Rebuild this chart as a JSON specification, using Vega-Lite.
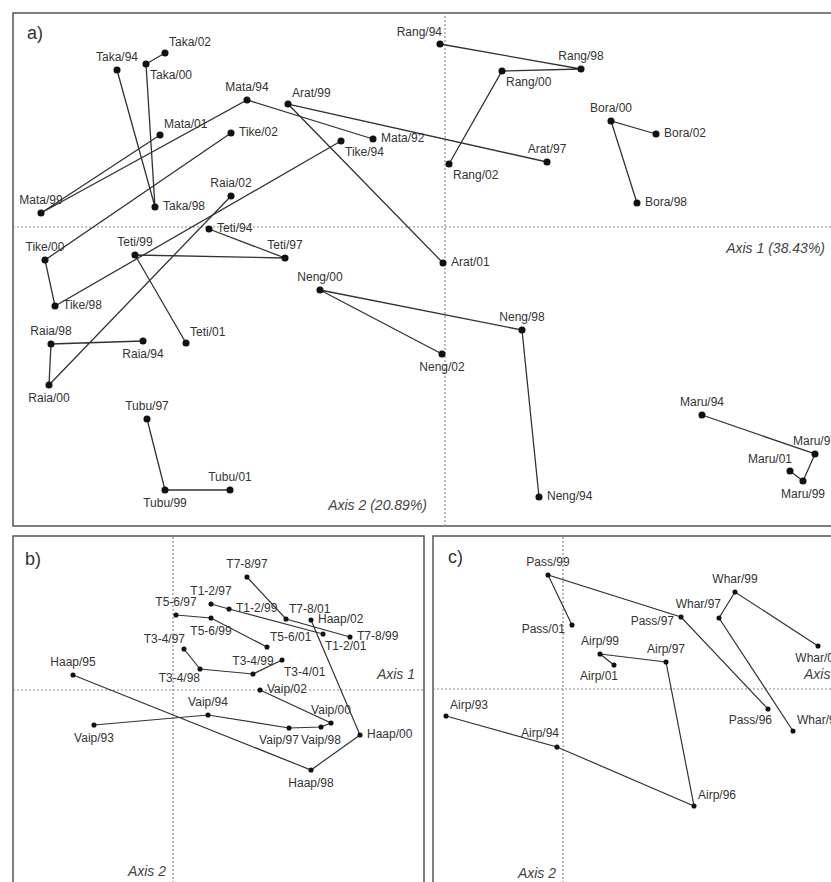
{
"$schema": "https://vega.github.io/schema/vega-lite/v6.json",
"padding": {"left": 11, "top": 11, "right": 0, "bottom": 0},
"background": "white",
"spacing": 10,
"bounds": "flush",
"config": {"view": {"stroke": "#555", "strokeWidth": 1.5}, "text": {"font": "Liberation Sans", "fontSize": 12, "color": "#333"}},
"datasets": {
"panelA": [
{"site":"Taka","label":"Taka/94","x":-3.28,"y":1.57,"seq":1,"pos":"above"},
{"site":"Taka","label":"Taka/98","x":-2.90,"y":0.20,"seq":2,"pos":"right"},
{"site":"Taka","label":"Taka/00","x":-2.99,"y":1.63,"seq":3,"pos":"lr"},
{"site":"Taka","label":"Taka/02","x":-2.80,"y":1.74,"seq":4,"pos":"ur"},
{"site":"Mata","label":"Mata/92","x":-0.72,"y":0.88,"seq":1,"pos":"right"},
{"site":"Mata","label":"Mata/94","x":-1.98,"y":1.27,"seq":2,"pos":"above"},
{"site":"Mata","label":"Mata/99","x":-4.04,"y":0.14,"seq":3,"pos":"above"},
{"site":"Mata","label":"Mata/01","x":-2.85,"y":0.92,"seq":4,"pos":"ur"},
{"site":"Arat","label":"Arat/97","x":1.02,"y":0.65,"seq":1,"pos":"above"},
{"site":"Arat","label":"Arat/99","x":-1.57,"y":1.23,"seq":2,"pos":"ur"},
{"site":"Arat","label":"Arat/01","x":-0.02,"y":-0.36,"seq":3,"pos":"right"},
{"site":"Tike","label":"Tike/94","x":-1.04,"y":0.86,"seq":1,"pos":"lr"},
{"site":"Tike","label":"Tike/98","x":-3.90,"y":-0.79,"seq":2,"pos":"right"},
{"site":"Tike","label":"Tike/00","x":-4.00,"y":-0.33,"seq":3,"pos":"above"},
{"site":"Tike","label":"Tike/02","x":-2.14,"y":0.94,"seq":4,"pos":"right"},
{"site":"Raia","label":"Raia/94","x":-3.02,"y":-1.14,"seq":1,"pos":"below"},
{"site":"Raia","label":"Raia/98","x":-3.94,"y":-1.17,"seq":2,"pos":"above"},
{"site":"Raia","label":"Raia/00","x":-3.96,"y":-1.58,"seq":3,"pos":"below"},
{"site":"Raia","label":"Raia/02","x":-2.14,"y":0.31,"seq":4,"pos":"above"},
{"site":"Teti","label":"Teti/94","x":-2.36,"y":-0.02,"seq":1,"pos":"right"},
{"site":"Teti","label":"Teti/97","x":-1.60,"y":-0.31,"seq":2,"pos":"above"},
{"site":"Teti","label":"Teti/99","x":-3.10,"y":-0.28,"seq":3,"pos":"above"},
{"site":"Teti","label":"Teti/01","x":-2.59,"y":-1.16,"seq":4,"pos":"ur"},
{"site":"Rang","label":"Rang/94","x":-0.05,"y":1.83,"seq":1,"pos":"ul"},
{"site":"Rang","label":"Rang/98","x":1.36,"y":1.58,"seq":2,"pos":"above"},
{"site":"Rang","label":"Rang/00","x":0.57,"y":1.56,"seq":3,"pos":"lr"},
{"site":"Rang","label":"Rang/02","x":0.04,"y":0.63,"seq":4,"pos":"lr"},
{"site":"Bora","label":"Bora/98","x":1.92,"y":0.24,"seq":1,"pos":"right"},
{"site":"Bora","label":"Bora/00","x":1.66,"y":1.06,"seq":2,"pos":"above"},
{"site":"Bora","label":"Bora/02","x":2.11,"y":0.93,"seq":3,"pos":"right"},
{"site":"Neng","label":"Neng/94","x":0.94,"y":-2.70,"seq":1,"pos":"right"},
{"site":"Neng","label":"Neng/98","x":0.77,"y":-1.03,"seq":2,"pos":"above"},
{"site":"Neng","label":"Neng/00","x":-1.25,"y":-0.63,"seq":3,"pos":"above"},
{"site":"Neng","label":"Neng/02","x":-0.03,"y":-1.27,"seq":4,"pos":"below"},
{"site":"Maru","label":"Maru/94","x":2.57,"y":-1.88,"seq":1,"pos":"above"},
{"site":"Maru","label":"Maru/97","x":3.70,"y":-2.27,"seq":2,"pos":"above"},
{"site":"Maru","label":"Maru/99","x":3.58,"y":-2.54,"seq":3,"pos":"below"},
{"site":"Maru","label":"Maru/01","x":3.45,"y":-2.44,"seq":4,"pos":"ul"},
{"site":"Tubu","label":"Tubu/97","x":-2.98,"y":-1.92,"seq":1,"pos":"above"},
{"site":"Tubu","label":"Tubu/99","x":-2.80,"y":-2.63,"seq":2,"pos":"below"},
{"site":"Tubu","label":"Tubu/01","x":-2.15,"y":-2.63,"seq":3,"pos":"above"}
],
"panelB": [
{"site":"T7-8","label":"T7-8/97","x":0.74,"y":1.13,"seq":1,"pos":"above"},
{"site":"T7-8","label":"T7-8/01","x":1.13,"y":0.71,"seq":2,"pos":"ur"},
{"site":"T7-8","label":"T7-8/99","x":1.77,"y":0.53,"seq":3,"pos":"right"},
{"site":"T1-2","label":"T1-2/97","x":0.38,"y":0.86,"seq":1,"pos":"above"},
{"site":"T1-2","label":"T1-2/99","x":0.56,"y":0.81,"seq":2,"pos":"right"},
{"site":"T1-2","label":"T1-2/01","x":1.50,"y":0.56,"seq":3,"pos":"lr"},
{"site":"T5-6","label":"T5-6/97","x":0.03,"y":0.75,"seq":1,"pos":"above"},
{"site":"T5-6","label":"T5-6/99","x":0.38,"y":0.72,"seq":2,"pos":"below"},
{"site":"T5-6","label":"T5-6/01","x":0.94,"y":0.43,"seq":3,"pos":"ur"},
{"site":"T3-4","label":"T3-4/97","x":0.11,"y":0.41,"seq":1,"pos":"ul"},
{"site":"T3-4","label":"T3-4/98","x":0.27,"y":0.21,"seq":2,"pos":"ll"},
{"site":"T3-4","label":"T3-4/99","x":0.80,"y":0.16,"seq":3,"pos":"above"},
{"site":"T3-4","label":"T3-4/01","x":1.09,"y":0.30,"seq":4,"pos":"lr"},
{"site":"Haap","label":"Haap/95","x":-1.00,"y":0.15,"seq":1,"pos":"above"},
{"site":"Haap","label":"Haap/98","x":1.38,"y":-0.80,"seq":2,"pos":"below"},
{"site":"Haap","label":"Haap/00","x":1.87,"y":-0.45,"seq":3,"pos":"right"},
{"site":"Haap","label":"Haap/02","x":1.38,"y":0.70,"seq":4,"pos":"right"},
{"site":"Vaip","label":"Vaip/93","x":-0.79,"y":-0.35,"seq":1,"pos":"below"},
{"site":"Vaip","label":"Vaip/94","x":0.35,"y":-0.25,"seq":2,"pos":"above"},
{"site":"Vaip","label":"Vaip/97","x":1.16,"y":-0.38,"seq":3,"pos":"bl"},
{"site":"Vaip","label":"Vaip/98","x":1.48,"y":-0.37,"seq":4,"pos":"below"},
{"site":"Vaip","label":"Vaip/00","x":1.58,"y":-0.33,"seq":5,"pos":"above"},
{"site":"Vaip","label":"Vaip/02","x":0.87,"y":0.00,"seq":6,"pos":"right"}
],
"panelC": [
{"site":"Pass","label":"Pass/96","x":2.05,"y":-0.20,"seq":1,"pos":"ll"},
{"site":"Pass","label":"Pass/97","x":1.18,"y":0.72,"seq":2,"pos":"left"},
{"site":"Pass","label":"Pass/99","x":-0.15,"y":1.14,"seq":3,"pos":"above"},
{"site":"Pass","label":"Pass/01","x":0.09,"y":0.64,"seq":4,"pos":"left"},
{"site":"Whar","label":"Whar/96","x":2.30,"y":-0.42,"seq":1,"pos":"ur"},
{"site":"Whar","label":"Whar/97","x":1.56,"y":0.71,"seq":2,"pos":"ul"},
{"site":"Whar","label":"Whar/99","x":1.72,"y":0.97,"seq":3,"pos":"above"},
{"site":"Whar","label":"Whar/01","x":2.55,"y":0.43,"seq":4,"pos":"below"},
{"site":"Airp","label":"Airp/93","x":-1.17,"y":-0.27,"seq":1,"pos":"ur"},
{"site":"Airp","label":"Airp/94","x":-0.06,"y":-0.58,"seq":2,"pos":"ul"},
{"site":"Airp","label":"Airp/96","x":1.31,"y":-1.17,"seq":3,"pos":"ur"},
{"site":"Airp","label":"Airp/97","x":1.03,"y":0.27,"seq":4,"pos":"above"},
{"site":"Airp","label":"Airp/99","x":0.37,"y":0.35,"seq":5,"pos":"above"},
{"site":"Airp","label":"Airp/01","x":0.51,"y":0.24,"seq":6,"pos":"ll"}
],
"refA": [{"x":0,"y":-2.99,"x2":0,"y2":2.14},{"x":-4.32,"y":0,"x2":3.87,"y2":0}],
"refB": [{"x":0,"y":-1.93,"x2":0,"y2":1.54},{"x":-1.60,"y":0,"x2":2.51,"y2":0}],
"refC": [{"x":0,"y":-1.94,"x2":0,"y2":1.53},{"x":-1.30,"y":0,"x2":2.73,"y2":0}],
"notesA": [
{"kind":"letter","x":-4.18,"y":1.93,"note":"a)"},
{"kind":"axisR","x":3.80,"y":-0.22,"note":"Axis 1 (38.43%)"},
{"kind":"axisR","x":-0.18,"y":-2.79,"note":"Axis 2 (20.89%)"}
],
"notesB": [
{"kind":"letter","x":-1.48,"y":1.30,"note":"b)"},
{"kind":"axisR","x":2.42,"y":0.15,"note":"Axis 1"},
{"kind":"axisR","x":-0.07,"y":-1.82,"note":"Axis 2"}
],
"notesC": [
{"kind":"letter","x":-1.15,"y":1.31,"note":"c)"},
{"kind":"axisL","x":2.41,"y":0.14,"note":"Axis 1"},
{"kind":"axisR","x":-0.07,"y":-1.85,"note":"Axis 2"}
]
},
"vconcat": [
{
"width": 819, "height": 513,
"data": {"name": "panelA"},
"encoding": {
"x": {"field": "x", "type": "quantitative", "scale": {"domain": [-4.32, 3.87], "nice": false, "zero": false}, "axis": null},
"y": {"field": "y", "type": "quantitative", "scale": {"domain": [-2.99, 2.14], "nice": false, "zero": false}, "axis": null}
},
"layer": [
{"data": {"name": "refA"}, "mark": {"type": "rule", "color": "#8c8c8c", "strokeDash": [2, 2], "strokeWidth": 1.2}, "encoding": {"x2": {"field": "x2"}, "y2": {"field": "y2"}}},
{"mark": {"type": "line", "color": "#333", "strokeWidth": 1.3}, "encoding": {"detail": {"field": "site"}, "order": {"field": "seq", "type": "quantitative"}}},
{"mark": {"type": "circle", "size": 50, "color": "#111", "opacity": 1}, "encoding": {}},
{"transform": [{"filter": "datum.pos === 'above'"}], "mark": {"type": "text", "align": "center", "baseline": "middle", "dy": -13, "clip": true}, "encoding": {"text": {"field": "label"}}},
{"transform": [{"filter": "datum.pos === 'below'"}], "mark": {"type": "text", "align": "center", "baseline": "middle", "dy": 13, "clip": true}, "encoding": {"text": {"field": "label"}}},
{"transform": [{"filter": "datum.pos === 'right'"}], "mark": {"type": "text", "align": "left", "baseline": "middle", "dx": 8, "dy": -1, "clip": true}, "encoding": {"text": {"field": "label"}}},
{"transform": [{"filter": "datum.pos === 'ur'"}], "mark": {"type": "text", "align": "left", "baseline": "middle", "dx": 4, "dy": -11, "clip": true}, "encoding": {"text": {"field": "label"}}},
{"transform": [{"filter": "datum.pos === 'ul'"}], "mark": {"type": "text", "align": "right", "baseline": "middle", "dx": 2, "dy": -12, "clip": true}, "encoding": {"text": {"field": "label"}}},
{"transform": [{"filter": "datum.pos === 'lr'"}], "mark": {"type": "text", "align": "left", "baseline": "middle", "dx": 4, "dy": 11, "clip": true}, "encoding": {"text": {"field": "label"}}},
{"data": {"name": "notesA"}, "transform": [{"filter": "datum.kind === 'letter'"}], "mark": {"type": "text", "align": "left", "baseline": "middle", "fontSize": 18}, "encoding": {"text": {"field": "note"}}},
{"data": {"name": "notesA"}, "transform": [{"filter": "datum.kind === 'axisR'"}], "mark": {"type": "text", "align": "right", "baseline": "middle", "fontSize": 14, "fontStyle": "italic", "color": "#444"}, "encoding": {"text": {"field": "note"}}}
]
},
{
"spacing": 5,
"hconcat": [
{
"width": 411, "height": 347,
"data": {"name": "panelB"},
"encoding": {
"x": {"field": "x", "type": "quantitative", "scale": {"domain": [-1.60, 2.51], "nice": false, "zero": false}, "axis": null},
"y": {"field": "y", "type": "quantitative", "scale": {"domain": [-1.93, 1.54], "nice": false, "zero": false}, "axis": null}
},
"layer": [
{"data": {"name": "refB"}, "mark": {"type": "rule", "color": "#8c8c8c", "strokeDash": [2, 2], "strokeWidth": 1.2}, "encoding": {"x2": {"field": "x2"}, "y2": {"field": "y2"}}},
{"mark": {"type": "line", "color": "#333", "strokeWidth": 1.2}, "encoding": {"detail": {"field": "site"}, "order": {"field": "seq", "type": "quantitative"}}},
{"mark": {"type": "circle", "size": 26, "color": "#111", "opacity": 1}, "encoding": {}},
{"transform": [{"filter": "datum.pos === 'above'"}], "mark": {"type": "text", "align": "center", "baseline": "middle", "dy": -13, "clip": true}, "encoding": {"text": {"field": "label"}}},
{"transform": [{"filter": "datum.pos === 'below'"}], "mark": {"type": "text", "align": "center", "baseline": "middle", "dy": 13, "clip": true}, "encoding": {"text": {"field": "label"}}},
{"transform": [{"filter": "datum.pos === 'bl'"}], "mark": {"type": "text", "align": "center", "baseline": "middle", "dx": -10, "dy": 12, "clip": true}, "encoding": {"text": {"field": "label"}}},
{"transform": [{"filter": "datum.pos === 'right'"}], "mark": {"type": "text", "align": "left", "baseline": "middle", "dx": 7, "dy": -1, "clip": true}, "encoding": {"text": {"field": "label"}}},
{"transform": [{"filter": "datum.pos === 'ur'"}], "mark": {"type": "text", "align": "left", "baseline": "middle", "dx": 3, "dy": -10, "clip": true}, "encoding": {"text": {"field": "label"}}},
{"transform": [{"filter": "datum.pos === 'ul'"}], "mark": {"type": "text", "align": "right", "baseline": "middle", "dx": 1, "dy": -10, "clip": true}, "encoding": {"text": {"field": "label"}}},
{"transform": [{"filter": "datum.pos === 'lr'"}], "mark": {"type": "text", "align": "left", "baseline": "middle", "dx": 2, "dy": 12, "clip": true}, "encoding": {"text": {"field": "label"}}},
{"transform": [{"filter": "datum.pos === 'll'"}], "mark": {"type": "text", "align": "right", "baseline": "middle", "dx": 0, "dy": 9, "clip": true}, "encoding": {"text": {"field": "label"}}},
{"data": {"name": "notesB"}, "transform": [{"filter": "datum.kind === 'letter'"}], "mark": {"type": "text", "align": "left", "baseline": "middle", "fontSize": 18}, "encoding": {"text": {"field": "note"}}},
{"data": {"name": "notesB"}, "transform": [{"filter": "datum.kind === 'axisR'"}], "mark": {"type": "text", "align": "right", "baseline": "middle", "fontSize": 14, "fontStyle": "italic", "color": "#444"}, "encoding": {"text": {"field": "note"}}}
]
},
{
"width": 403, "height": 347,
"data": {"name": "panelC"},
"encoding": {
"x": {"field": "x", "type": "quantitative", "scale": {"domain": [-1.30, 2.73], "nice": false, "zero": false}, "axis": null},
"y": {"field": "y", "type": "quantitative", "scale": {"domain": [-1.94, 1.53], "nice": false, "zero": false}, "axis": null}
},
"layer": [
{"data": {"name": "refC"}, "mark": {"type": "rule", "color": "#8c8c8c", "strokeDash": [2, 2], "strokeWidth": 1.2}, "encoding": {"x2": {"field": "x2"}, "y2": {"field": "y2"}}},
{"mark": {"type": "line", "color": "#333", "strokeWidth": 1.2}, "encoding": {"detail": {"field": "site"}, "order": {"field": "seq", "type": "quantitative"}}},
{"mark": {"type": "circle", "size": 26, "color": "#111", "opacity": 1}, "encoding": {}},
{"transform": [{"filter": "datum.pos === 'above'"}], "mark": {"type": "text", "align": "center", "baseline": "middle", "dy": -13, "clip": true}, "encoding": {"text": {"field": "label"}}},
{"transform": [{"filter": "datum.pos === 'below'"}], "mark": {"type": "text", "align": "center", "baseline": "middle", "dy": 12, "clip": true}, "encoding": {"text": {"field": "label"}}},
{"transform": [{"filter": "datum.pos === 'left'"}], "mark": {"type": "text", "align": "right", "baseline": "middle", "dx": -7, "dy": 4, "clip": true}, "encoding": {"text": {"field": "label"}}},
{"transform": [{"filter": "datum.pos === 'ur'"}], "mark": {"type": "text", "align": "left", "baseline": "middle", "dx": 4, "dy": -11, "clip": true}, "encoding": {"text": {"field": "label"}}},
{"transform": [{"filter": "datum.pos === 'ul'"}], "mark": {"type": "text", "align": "right", "baseline": "middle", "dx": 2, "dy": -14, "clip": true}, "encoding": {"text": {"field": "label"}}},
{"transform": [{"filter": "datum.pos === 'll'"}], "mark": {"type": "text", "align": "right", "baseline": "middle", "dx": 4, "dy": 11, "clip": true}, "encoding": {"text": {"field": "label"}}},
{"data": {"name": "notesC"}, "transform": [{"filter": "datum.kind === 'letter'"}], "mark": {"type": "text", "align": "left", "baseline": "middle", "fontSize": 18}, "encoding": {"text": {"field": "note"}}},
{"data": {"name": "notesC"}, "transform": [{"filter": "datum.kind === 'axisL'"}], "mark": {"type": "text", "align": "left", "baseline": "middle", "fontSize": 14, "fontStyle": "italic", "color": "#444", "clip": true}, "encoding": {"text": {"field": "note"}}},
{"data": {"name": "notesC"}, "transform": [{"filter": "datum.kind === 'axisR'"}], "mark": {"type": "text", "align": "right", "baseline": "middle", "fontSize": 14, "fontStyle": "italic", "color": "#444"}, "encoding": {"text": {"field": "note"}}}
]
}
]
}
]
}
